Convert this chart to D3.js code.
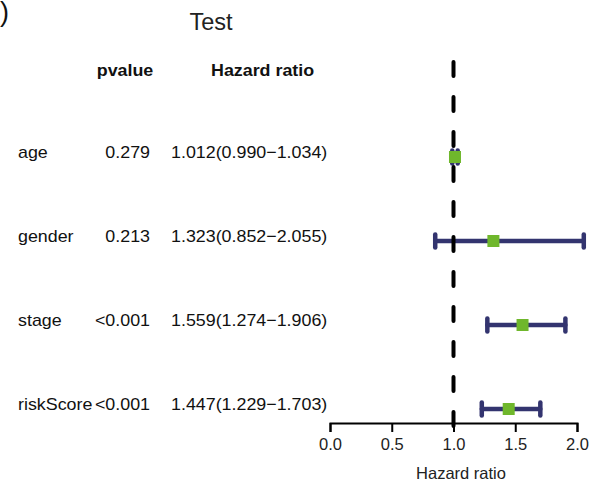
<!DOCTYPE html>
<html><head><meta charset="utf-8">
<script src="https://cdn.jsdelivr.net/npm/d3@7/dist/d3.min.js"></script>
<style>body{margin:0;background:#fff;} svg{display:block;font-family:"Liberation Sans",Arial,sans-serif;}</style>
</head><body>
<script>
const variables = ["age", "gender", "stage", "riskScore"];
const pvalues = ["0.279", "0.213", "<0.001", "<0.001"];
const hazardRatio = [1.012, 1.323, 1.559, 1.447];
const hrLow = [0.990, 0.852, 1.274, 1.229];
const hrHigh = [1.034, 2.055, 1.906, 1.703];
const xTicks = [0.0, 0.5, 1.0, 1.5, 2.0];
const title = "Test";

const W = 603, H = 486;
const svg = d3.select("body").append("svg").attr("width", W).attr("height", H);

const x = d3.scaleLinear().domain([0, 2]).range([330, 577]);
const y = d3.scalePoint().domain(variables).range([157, 409]);
const navy = "#33346f", green = "#6fb72c";
const sx = 1.05;

function label(g, tx, ty, str, anchor) {
  return g.append("text").attr("transform", `translate(${tx},${ty}) scale(${sx},1)`)
    .attr("text-anchor", anchor || "start").text(str);
}

// panel letter (cropped in the reference)
svg.append("text").attr("x", 0).attr("y", 21).attr("font-size", 27).attr("fill", "#111").text(")");
// title
svg.append("text").attr("x", 211).attr("y", 30).attr("text-anchor", "middle")
  .attr("font-size", 23.5).attr("fill", "#222").text(title);
// headers
const hdr = svg.append("g").attr("font-size", 17).attr("font-weight", "bold").attr("fill", "#111");
label(hdr, 125, 76, "pvalue", "middle");
label(hdr, 211, 76, "Hazard ratio");

const rows = svg.append("g").attr("font-size", 17).attr("fill", "#111");
variables.forEach((v, i) => {
  const yy = y(v) + 1;
  label(rows, 18, yy, v);
  label(rows, 150, yy, pvalues[i], "end");
  label(rows, 171, yy, hazardRatio[i].toFixed(3) + "(" + hrLow[i].toFixed(3) + "\u2212" + hrHigh[i].toFixed(3) + ")");
});

// CI bars
const bars = svg.append("g").attr("stroke", navy).attr("stroke-linecap", "round");
variables.forEach((v, i) => {
  const yy = y(v);
  bars.append("line").attr("x1", x(hrLow[i])).attr("x2", x(hrHigh[i])).attr("y1", yy).attr("y2", yy).attr("stroke-width", 4.5);
  [hrLow[i], hrHigh[i]].forEach(e => {
    bars.append("line").attr("x1", x(e)).attr("x2", x(e)).attr("y1", yy - 6.5).attr("y2", yy + 6.5).attr("stroke-width", 4.5);
  });
});

// reference dashed line
svg.append("line").attr("x1", x(1)).attr("x2", x(1)).attr("y1", 62).attr("y2", 428)
  .attr("stroke", "#000").attr("stroke-width", 4).attr("stroke-linecap", "round")
  .attr("stroke-dasharray", "14,21");

// points
svg.append("g").selectAll("rect").data(variables).join("rect")
  .attr("x", (d, i) => x(hazardRatio[i]) - 6)
  .attr("y", d => y(d) - 6)
  .attr("width", 12).attr("height", 12).attr("fill", green);

// x axis
const axis = d3.axisBottom(x).tickValues(xTicks).tickFormat(d3.format(".1f")).tickSize(9).tickPadding(6);
const ga = svg.append("g").attr("transform", "translate(0,423)").call(axis);
ga.select(".domain").attr("stroke", "#000").attr("stroke-width", 2);
ga.selectAll(".tick line").attr("stroke", "#000").attr("stroke-width", 2);
ga.selectAll(".tick text").attr("font-size", 16.5).attr("fill", "#222")
  .attr("font-family", "'Liberation Sans',Arial,sans-serif");
svg.append("text").attr("x", 461).attr("y", 479).attr("text-anchor", "middle")
  .attr("font-size", 16.5).attr("fill", "#222").text("Hazard ratio");
</script>
</body></html>
